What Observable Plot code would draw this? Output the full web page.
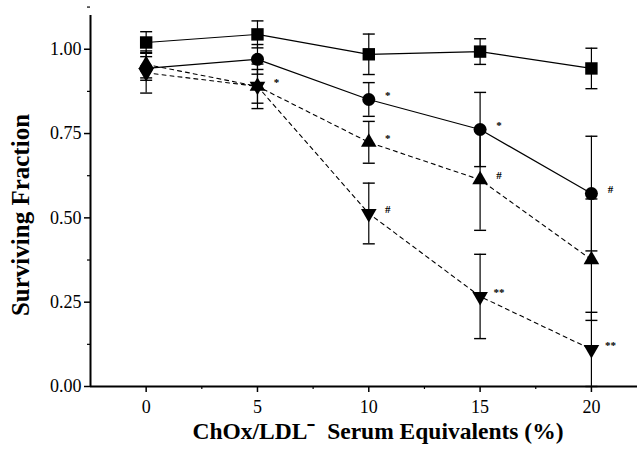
<!DOCTYPE html>
<html><head><meta charset="utf-8">
<script src="https://cdn.jsdelivr.net/npm/d3@7"></script>
<script src="https://cdn.jsdelivr.net/npm/@observablehq/plot@0.6"></script>
<style>
html,body{margin:0;padding:0;background:#fff;}
svg, svg text{font-family:"Liberation Serif","Times New Roman",serif !important;}
</style>
</head><body>
<div id="chart"></div>
<script>
const doses = [0, 5, 10, 15, 20];
const seriesNames = ["square", "circle", "triUp", "triDown"];
const squareMean = [1.02, 1.044, 0.985, 0.993, 0.943];
const squareErr  = [0.032, 0.04, 0.06, 0.038, 0.06];
const circleMean = [0.943, 0.97, 0.851, 0.762, 0.572];
const circleErr  = [0.035, 0.044, 0.05, 0.11, 0.17];
const triUpMean  = [0.955, 0.89, 0.724, 0.613, 0.376];
const triUpErr   = [0.04, 0.05, 0.062, 0.15, 0.18];
const triDownMean = [0.93, 0.89, 0.513, 0.267, 0.11];
const triDownErr  = [0.06, 0.066, 0.09, 0.125, 0.11];
const yTicks = [0, 0.25, 0.5, 0.75, 1.0];
const yMinor = [0.125, 0.375, 0.625, 0.875, 1.125];
const xTicks = [0, 5, 10, 15, 20];
const xMinor = [2.5, 7.5, 12.5, 17.5];
// significance marks: series, dose, label
const annSeries = ["triDown", "circle", "triUp", "triDown", "circle", "triUp", "triDown", "circle", "triDown"];
const annDose   = [5, 10, 10, 10, 15, 15, 15, 20, 20];
const annLabel  = ["*", "*", "*", "#", "*", "#", "**", "#", "**"];

const means = {square: squareMean, circle: circleMean, triUp: triUpMean, triDown: triDownMean};
const errs = {square: squareErr, circle: circleErr, triUp: triUpErr, triDown: triDownErr};
const rows = seriesNames.flatMap(s => doses.map((d, i) => ({s, x: d, y: means[s][i], lo: means[s][i] - errs[s][i], hi: means[s][i] + errs[s][i]})));
const bySeries = s => rows.filter(r => r.s === s);
const ann = annLabel.map((t, i) => ({t, x: annDose[i], y: means[annSeries[i]][doses.indexOf(annDose[i])]}));

const cap = {draw(ctx, size) { const w = 6; ctx.moveTo(-w, 0); ctx.lineTo(w, 0); }};
const xMin = -2.5;
const serif = '"Liberation Serif", serif';

const chart = Plot.plot({
  width: 637, height: 452,
  marginLeft: 90, marginRight: 0, marginTop: 15, marginBottom: 66,
  style: {fontFamily: serif, background: "#fff", color: "#000"},
  x: {domain: [xMin, 22.07]},
  y: {domain: [0, 1.1]},
  marks: [
    Plot.axisY(yTicks, {tickSize: 6, text: null, label: null, strokeWidth: 1.5}),
    Plot.axisY(yMinor, {tickSize: 3, text: null, label: null, strokeWidth: 1.2}),
    Plot.axisX(xTicks, {tickSize: 6, text: null, label: null, strokeWidth: 1.5}),
    Plot.axisX(xMinor, {tickSize: 3, text: null, label: null, strokeWidth: 1.2}),
    Plot.text(yTicks, {x: xMin, y: d => d, text: d => d3.format(".2f")(d), textAnchor: "end", dx: -9, fontSize: 18, fontFamily: serif, fill: "#000"}),
    Plot.text(xTicks, {x: d => d, y: 0, text: d => String(d), dy: 21, fontSize: 18, fontFamily: serif, fill: "#000"}),
    Plot.ruleX([xMin], {stroke: "#000", strokeWidth: 2}),
    Plot.ruleY([0], {stroke: "#000", strokeWidth: 2}),
    Plot.ruleX(rows, {x: "x", y1: "lo", y2: "hi", stroke: "#000", strokeWidth: 1.2}),
    Plot.dot(rows, {x: "x", y: "lo", symbol: cap, stroke: "#000", strokeWidth: 1.4, fill: "none", r: 5}),
    Plot.dot(rows, {x: "x", y: "hi", symbol: cap, stroke: "#000", strokeWidth: 1.4, fill: "none", r: 5}),
    Plot.line(bySeries("square"), {x: "x", y: "y", stroke: "#000", strokeWidth: 1.2}),
    Plot.line(bySeries("circle"), {x: "x", y: "y", stroke: "#000", strokeWidth: 1.2}),
    Plot.line(bySeries("triUp"), {x: "x", y: "y", stroke: "#000", strokeWidth: 1.1, strokeDasharray: "4,4"}),
    Plot.line(bySeries("triDown"), {x: "x", y: "y", stroke: "#000", strokeWidth: 1.1, strokeDasharray: "4,4"}),
    Plot.dot(bySeries("square"), {x: "x", y: "y", symbol: "square", fill: "#000", r: 7}),
    Plot.dot(bySeries("circle"), {x: "x", y: "y", symbol: "circle", fill: "#000", r: 6.5}),
    Plot.dot(bySeries("triUp"), {x: "x", y: "y", symbol: "triangle", fill: "#000", r: 5.8}),
    Plot.dot(bySeries("triDown"), {x: "x", y: "y", symbol: "triangle", rotate: 180, fill: "#000", r: 5.8}),
    Plot.text(ann, {x: "x", y: "y", text: "t", dx: 19, dy: -4, fontSize: 11, fontWeight: "bold", fontFamily: serif, fill: "#000"}),
    Plot.text(["ChOx/LDL\u207B  Serum Equivalents (%)"], {frameAnchor: "bottom", textAnchor: "middle", dx: 14, dy: 52, fontSize: 23.5, fontWeight: "bold", fontFamily: serif, fill: "#000"}),
    Plot.text(["Surviving Fraction"], {frameAnchor: "left", textAnchor: "middle", dx: -70, dy: 14, rotate: -90, fontSize: 25, fontWeight: "bold", fontFamily: serif, fill: "#000"})
  ]
});
document.getElementById("chart").appendChild(chart);
</script>
</body></html>
